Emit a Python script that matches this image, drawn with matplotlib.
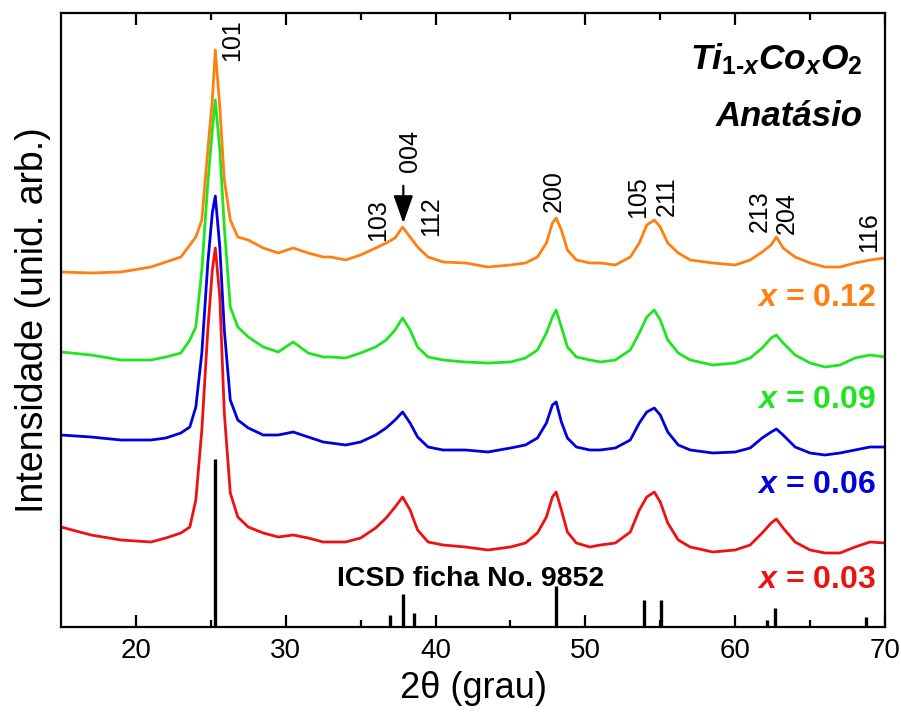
import matplotlib

matplotlib.use("Agg")
import matplotlib.pyplot as plt
import numpy as np

plt.rcParams["font.family"] = ["Liberation Sans", "DejaVu Sans"]
plt.rcParams["mathtext.fontset"] = "custom"
plt.rcParams["mathtext.it"] = "Liberation Sans:bold:italic"
plt.rcParams["mathtext.rm"] = "Liberation Sans:bold"
plt.rcParams["mathtext.bf"] = "Liberation Sans:bold"

# 2theta grid shared by all patterns (degrees)
two_theta = [15, 17, 19, 21, 22, 23, 23.6, 24.0, 24.4, 24.8, 25.1, 25.3, 25.6, 25.9,
             26.3, 26.8, 27.5, 28.5, 29.5, 30.5, 31.5, 32.5, 33, 34, 35, 36, 36.7,
             37.3, 37.8, 38.3, 38.8, 39.5, 40.5, 42, 43.5, 45, 46, 46.8, 47.4, 47.8,
             48.05, 48.4, 48.8, 49.4, 50.3, 51, 52, 53, 53.6, 54.1, 54.6, 55.0, 55.5,
             56.2, 57, 58.5, 60, 61, 61.8, 62.4, 62.75, 63.2, 64, 65, 66, 67, 68, 69, 70]

# intensities (arb. units, already stacked with offsets)
int_x012 = [355, 354, 355, 360, 365, 370, 382, 390, 407, 477, 527, 577, 520, 447,
            407, 390, 387, 379, 374, 379, 374, 370, 370, 367, 372, 379, 384,
            389, 400, 390, 380, 370, 365, 364, 360, 362, 364, 370, 384, 404,
            409, 397, 377, 367, 364, 364, 362, 370, 384, 402, 407, 400, 384,
            374, 367, 364, 362, 367, 375, 382, 390, 379, 370, 364, 360, 360, 364, 367, 369]
int_x009 = [275, 272, 267, 267, 270, 274, 287, 300, 357, 444, 497, 527, 477, 400,
            320, 300, 290, 280, 275, 285, 274, 270, 270, 269, 274, 280, 287,
            297, 309, 297, 280, 270, 267, 265, 264, 265, 269, 277, 294, 310,
            317, 300, 280, 270, 267, 265, 267, 277, 294, 310, 317, 307, 287,
            274, 267, 262, 264, 269, 279, 289, 292, 284, 272, 264, 260, 262, 269, 272, 270]
int_x006 = [192, 190, 187, 187, 189, 194, 200, 220, 274, 364, 414, 431, 380, 297,
            227, 207, 199, 192, 192, 195, 190, 185, 184, 182, 185, 192, 199,
            207, 215, 204, 190, 180, 177, 177, 175, 179, 182, 189, 204, 222,
            225, 205, 189, 180, 177, 177, 179, 187, 204, 215, 219, 212, 195,
            182, 177, 174, 175, 179, 189, 195, 198, 192, 180, 174, 172, 174, 177, 180, 180]
int_x003 = [100, 92, 87, 85, 89, 94, 100, 127, 197, 297, 357, 379, 330, 214,
            134, 110, 100, 94, 90, 92, 89, 85, 85, 85, 89, 99, 109,
            120, 130, 117, 97, 85, 82, 80, 77, 80, 84, 94, 110, 130,
            135, 117, 95, 84, 80, 82, 84, 95, 117, 130, 135, 125, 104,
            87, 80, 75, 77, 82, 94, 104, 108, 99, 85, 77, 74, 74, 80, 85, 84]

series = [
    (int_x003, "#ee1111", "$x$ = 0.03", 39),
    (int_x006, "#0000dd", "$x$ = 0.06", 134),
    (int_x009, "#1ee61e", "$x$ = 0.09", 219),
    (int_x012, "#ff8010", "$x$ = 0.12", 321),
]

# ICSD card 9852 (anatase) reference reflections
ref_pos = [25.28, 36.95, 37.80, 38.57, 48.05, 53.89, 55.06, 62.12, 62.69, 68.76]
ref_int = [168, 12, 33, 14, 41, 27, 27, 7, 19, 10]

# hkl labels: (text, 2theta, height)
hkl_labels = [
    ("101", 26.4, 587),
    ("103", 36.2, 407),
    ("004", 38.27, 476),
    ("112", 39.7, 411),
    ("200", 47.87, 436),
    ("105", 53.5, 430),
    ("211", 55.4, 431),
    ("213", 61.67, 416),
    ("204", 63.47, 414),
    ("116", 68.93, 395),
]

fig = plt.figure(figsize=(9.01, 7.18), dpi=100)
ax = fig.add_axes([61 / 901, 1 - 627 / 718, 824 / 901, 614 / 718])

for values, color, label, ybase in series:
    ax.plot(two_theta, values, color=color, linewidth=2.0, solid_joinstyle="round")
    ax.text(69.4, ybase, label, color=color, fontsize=23, fontweight="bold",
            ha="right", va="baseline")

ax.vlines(ref_pos, 0, ref_int, color="black", linewidth=2.4)
ax.text(33.4, 41, "ICSD ficha No. 9852", fontsize=20.5, fontweight="bold",
        ha="left", va="baseline")

for text, xpos, ypos in hkl_labels:
    ax.text(xpos, ypos, text, rotation=90, fontsize=18, ha="center", va="center")

ax.annotate("", xy=(37.85, 401), xytext=(37.85, 444),
            arrowprops=dict(arrowstyle="-|>,head_length=0.85,head_width=0.3",
                            color="black", lw=1.6, mutation_scale=20))

ax.text(68.5, 558, "$\\mathit{Ti_{1\u2010x}Co_{x}O_{2}}$", fontsize=25.5,
        ha="right", va="baseline")
ax.text(68.5, 501, "Anatásio", fontsize=25, fontweight="bold", style="italic",
        ha="right", va="baseline")

ax.set_xlim(15, 70)
ax.set_ylim(0, 614)
ax.set_yticks([])
ax.set_xticks([20, 30, 40, 50, 60, 70])
ax.set_xticks([25, 35, 45, 55, 65], minor=True)
ax.tick_params(axis="x", which="both", direction="in", top=True, width=1.6,
               labelsize=20, pad=8)
ax.tick_params(axis="x", which="major", length=8.5)
ax.tick_params(axis="x", which="minor", length=5)
for spine in ax.spines.values():
    spine.set_linewidth(1.6)

ax.set_xlabel("2θ (grau)", fontsize=26, labelpad=5)
ax.set_ylabel("Intensidade (unid. arb.)", fontsize=27, labelpad=7)

fig.savefig("out.png", dpi=100)
